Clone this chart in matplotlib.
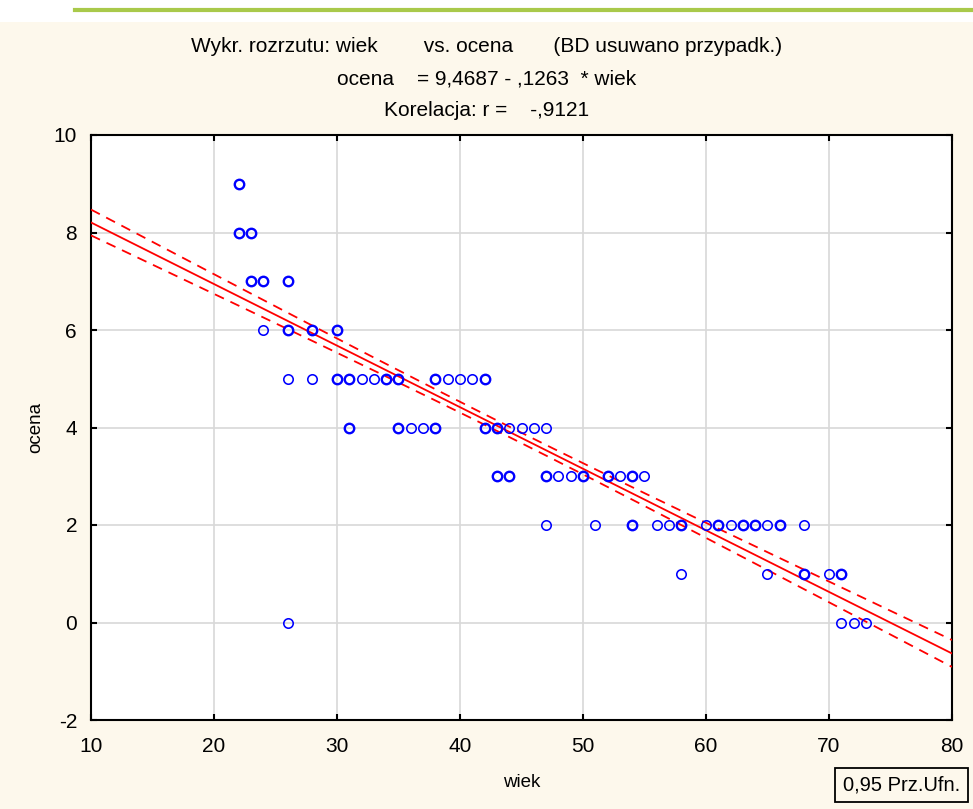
import numpy as np
import matplotlib
matplotlib.use("Agg")
import matplotlib.pyplot as plt
from matplotlib.patches import Rectangle
from matplotlib.lines import Line2D

plt.rcParams['font.family'] = ['Liberation Sans', 'DejaVu Sans']

# ---- data (wiek, ocena, count of overlapping cases drawn as heavier circles) ----
wiek = [22,
        22, 23,
        23, 24, 26,
        24, 26, 28, 30,
        26, 28, 30, 31, 32, 33, 34, 35, 38, 39, 40, 41, 42,
        31, 35, 36, 37, 38, 42, 43, 44, 45, 46, 47,
        43, 44, 47, 48, 49, 50, 52, 53, 54, 55,
        47, 51, 54, 56, 57, 58, 60, 61, 62, 63, 64, 65, 66, 68,
        58, 65, 68, 70, 71,
        26, 71, 72, 73]
ocena = [9,
         8, 8,
         7, 7, 7,
         6, 6, 6, 6,
         5, 5, 5, 5, 5, 5, 5, 5, 5, 5, 5, 5, 5,
         4, 4, 4, 4, 4, 4, 4, 4, 4, 4, 4,
         3, 3, 3, 3, 3, 3, 3, 3, 3, 3,
         2, 2, 2, 2, 2, 2, 2, 2, 2, 2, 2, 2, 2, 2,
         1, 1, 1, 1, 1,
         0, 0, 0, 0]
liczba = [2,
          2, 2,
          2, 2, 2,
          1, 2, 2, 2,
          1, 1, 2, 2, 1, 1, 2, 2, 2, 1, 1, 1, 2,
          2, 2, 1, 1, 2, 2, 2, 1, 1, 1, 1,
          2, 2, 2, 1, 1, 2, 2, 1, 2, 1,
          1, 1, 2, 1, 1, 2, 1, 2, 1, 2, 2, 1, 2, 1,
          1, 1, 2, 1, 2,
          1, 1, 1, 1]

INTERCEPT = 9.4687
SLOPE = -0.1263
R = -0.9121
N_CASES = 320          # estimated total number of cases (many overlap in the plot)
T_95 = 1.967

x_ticks = [10, 20, 30, 40, 50, 60, 70, 80]
y_ticks = [-2, 0, 2, 4, 6, 8, 10]

title_lines = ["Wykr. rozrzutu: wiek        vs. ocena       (BD usuwano przypadk.)",
               "ocena    = 9,4687 - ,1263  * wiek",
               "Korelacja: r =    -,9121"]

# ---- figure ----
W, H = 973, 809
fig = plt.figure(figsize=(W / 100, H / 100), dpi=100, facecolor='white')

# cream background panel and green line on top
fig.patches.append(Rectangle((0, 0), 1, 1 - 22 / H, transform=fig.transFigure,
                             facecolor='#FDF8EC', edgecolor='none', zorder=-5))
fig.lines.append(Line2D([75 / W, 1], [1 - 10 / H, 1 - 10 / H], transform=fig.transFigure,
                        color='#A9C94A', lw=3, zorder=-4))

ax = fig.add_axes([91 / W, 1 - 720 / H, (952 - 91) / W, (720 - 135) / H])
ax.set_zorder(2)
ax.set_facecolor('white')

# regression line and 95% confidence band of the mean
xs = np.repeat(np.array(wiek, float), liczba)
ys = np.repeat(np.array(ocena, float), liczba)
n_vis = len(xs)
resid = ys - (INTERCEPT + SLOPE * xs)
s = np.sqrt(np.sum(resid ** 2) / (n_vis - 2))
xm = xs.mean()
var_x = np.mean((xs - xm) ** 2)

xx = np.linspace(10, 80, 200)
yy = INTERCEPT + SLOPE * xx
se = s * np.sqrt(1 / N_CASES + (xx - xm) ** 2 / (N_CASES * var_x))

ax.plot(xx, yy, color='#FF0000', lw=1.3, zorder=3)
ax.plot(xx, yy + T_95 * se, color='#FF0000', lw=1.3, ls=(0, (5.5, 4)), zorder=3)
ax.plot(xx, yy - T_95 * se, color='#FF0000', lw=1.3, ls=(0, (5.5, 4)), zorder=3)

for xv, yv, c in zip(wiek, ocena, liczba):
    ax.plot([xv], [yv], 'o', ms=6.8, mfc='none', mec='#0000FF',
            mew=1.15 if c == 1 else 1.7, zorder=4)

ax.set_xlim(10, 80)
ax.set_ylim(-2, 10)
ax.set_xticks(x_ticks)
ax.set_yticks(y_ticks)
ax.set_xticklabels([str(v) for v in x_ticks])
ax.set_yticklabels([str(v) for v in y_ticks])
ax.grid(True, color='#D8D8D8', lw=1.2, zorder=0)
ax.set_axisbelow(True)
ax.tick_params(direction='in', length=4, width=1.5, labelsize=15, colors='black')
ax.tick_params(axis='x', pad=12)
ax.tick_params(axis='y', pad=10)
ax.tick_params(top=True, right=True)
for sp in ax.spines.values():
    sp.set_linewidth(1.5)

ax.set_xlabel('wiek', fontsize=13.5, labelpad=13)
ax.set_ylabel('ocena', fontsize=13.5, labelpad=7)

for i, line in enumerate(title_lines):
    fig.text(0.5, 1 - (47 + 32 * i) / H, line, ha='center', va='center', fontsize=15)

fig.text(901.5 / W, 1 - 785 / H, '0,95 Prz.Ufn.', ha='center', va='center', fontsize=14.5,
         bbox=dict(boxstyle='square,pad=0.38', facecolor='none', edgecolor='black', lw=1.3))

fig.savefig('out.png', dpi=100, facecolor=fig.get_facecolor())
